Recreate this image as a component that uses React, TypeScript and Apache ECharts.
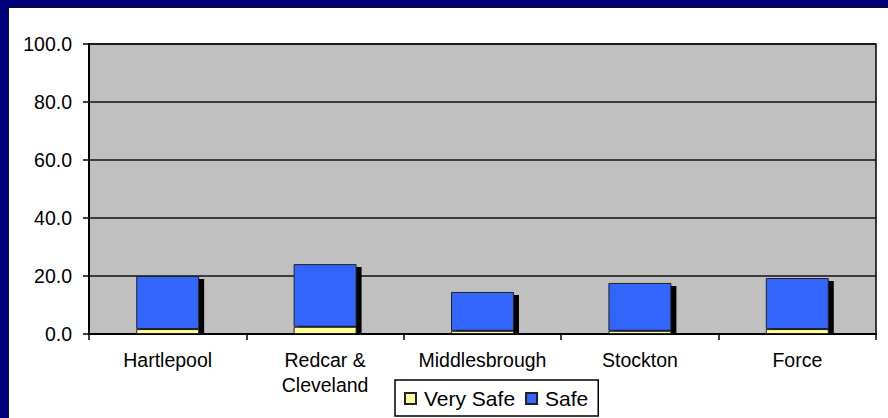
import React, { useEffect, useRef } from "react";
import * as echarts from "echarts";

const categories = ["Hartlepool", "Redcar &\nCleveland", "Middlesbrough", "Stockton", "Force"];
const verySafe = [1.7, 2.5, 1.1, 1.1, 1.7];
const safe = [18.3, 21.6, 13.4, 16.5, 17.6];
const seriesNames = ["Very Safe", "Safe"];
const yMin = 0;
const yMax = 100;
const yInterval = 20;

export default function App() {
  const ref = useRef<HTMLDivElement>(null);
  useEffect(() => {
    if (!ref.current) return;
    const chart = echarts.init(ref.current, null, { renderer: "svg" });
    const totals = verySafe.map((v, i) => v + safe[i]);
    const font = "Liberation Sans, Arial, sans-serif";
    chart.setOption({
      animation: false,
      backgroundColor: "#ffffff",
      textStyle: { fontFamily: font, color: "#000" },
      graphic: [
        { type: "rect", shape: { x: 0, y: 0, width: 888, height: 8 }, style: { fill: "#00007C" }, silent: true },
        { type: "rect", shape: { x: 0, y: 0, width: 8, height: 418 }, style: { fill: "#00007C" }, silent: true },
        { type: "line", shape: { x1: 8.5, y1: 8, x2: 8.5, y2: 418 }, style: { stroke: "#111", lineWidth: 1 }, silent: true },
        { type: "line", shape: { x1: 8, y1: 7.5, x2: 888, y2: 7.5 }, style: { stroke: "#111", lineWidth: 1 }, silent: true },
      ],
      grid: {
        left: 89,
        top: 44,
        right: 12,
        bottom: 84,
        show: true,
        backgroundColor: "#C0C0C0",
        borderColor: "#000",
        borderWidth: 1.5,
      },
      legend: {
        data: seriesNames,
        left: 395,
        top: 380,
        padding: [8, 10, 7, 9],
        borderColor: "#000",
        borderWidth: 1.5,
        backgroundColor: "#fff",
        borderRadius: 0,
        icon: "rect",
        itemWidth: 11,
        itemHeight: 11,
        itemGap: 10,
        textStyle: { fontSize: 21, fontFamily: font, color: "#000", padding: [0, 0, 0, 3] },
      },
      xAxis: {
        type: "category",
        data: categories,
        axisLine: { lineStyle: { color: "#000", width: 2 } },
        axisTick: { show: true, length: 6, lineStyle: { color: "#000", width: 1.5 } },
        axisLabel: { fontSize: 19.5, fontFamily: font, color: "#000", margin: 13, lineHeight: 25, interval: 0 },
      },
      yAxis: {
        type: "value",
        min: yMin,
        max: yMax,
        interval: yInterval,
        axisLine: { show: true, lineStyle: { color: "#000", width: 2 } },
        axisTick: { show: true, length: 6, lineStyle: { color: "#000", width: 1.5 } },
        axisLabel: {
          fontSize: 19.5,
          fontFamily: font,
          color: "#000",
          margin: 17,
          formatter: (v: number) => v.toFixed(1),
        },
        splitLine: { show: true, lineStyle: { color: "#111", width: 1.5 } },
      },
      series: [
        {
          type: "custom",
          name: "shadow",
          z: 1,
          data: totals.map((t, i) => [i, t]),
          renderItem: (params: any, api: any) => {
            const idx = api.value(0);
            const top = api.coord([idx, api.value(1)]);
            const base = api.coord([idx, 0]);
            const bw = api.size([1, 0])[0] * 0.4;
            return {
              type: "rect",
              shape: { x: top[0] - bw / 2 + 5, y: top[1] + 3, width: bw, height: base[1] - top[1] - 3 },
              style: { fill: "#000" },
            };
          },
          silent: true,
        },
        {
          type: "bar",
          name: seriesNames[0],
          stack: "total",
          z: 2,
          barWidth: "40%",
          data: verySafe,
          itemStyle: { color: "#FFFF99", borderColor: "#222", borderWidth: 1 },
        },
        {
          type: "bar",
          name: seriesNames[1],
          stack: "total",
          z: 2,
          barWidth: "40%",
          data: safe,
          itemStyle: { color: "#3366FF", borderColor: "#222", borderWidth: 1 },
        },
      ],
    });
    return () => chart.dispose();
  }, []);
  return (
    <div
      ref={ref}
      style={{ position: "fixed", left: 0, top: 0, width: 888, height: 418 }}
    />
  );
}
